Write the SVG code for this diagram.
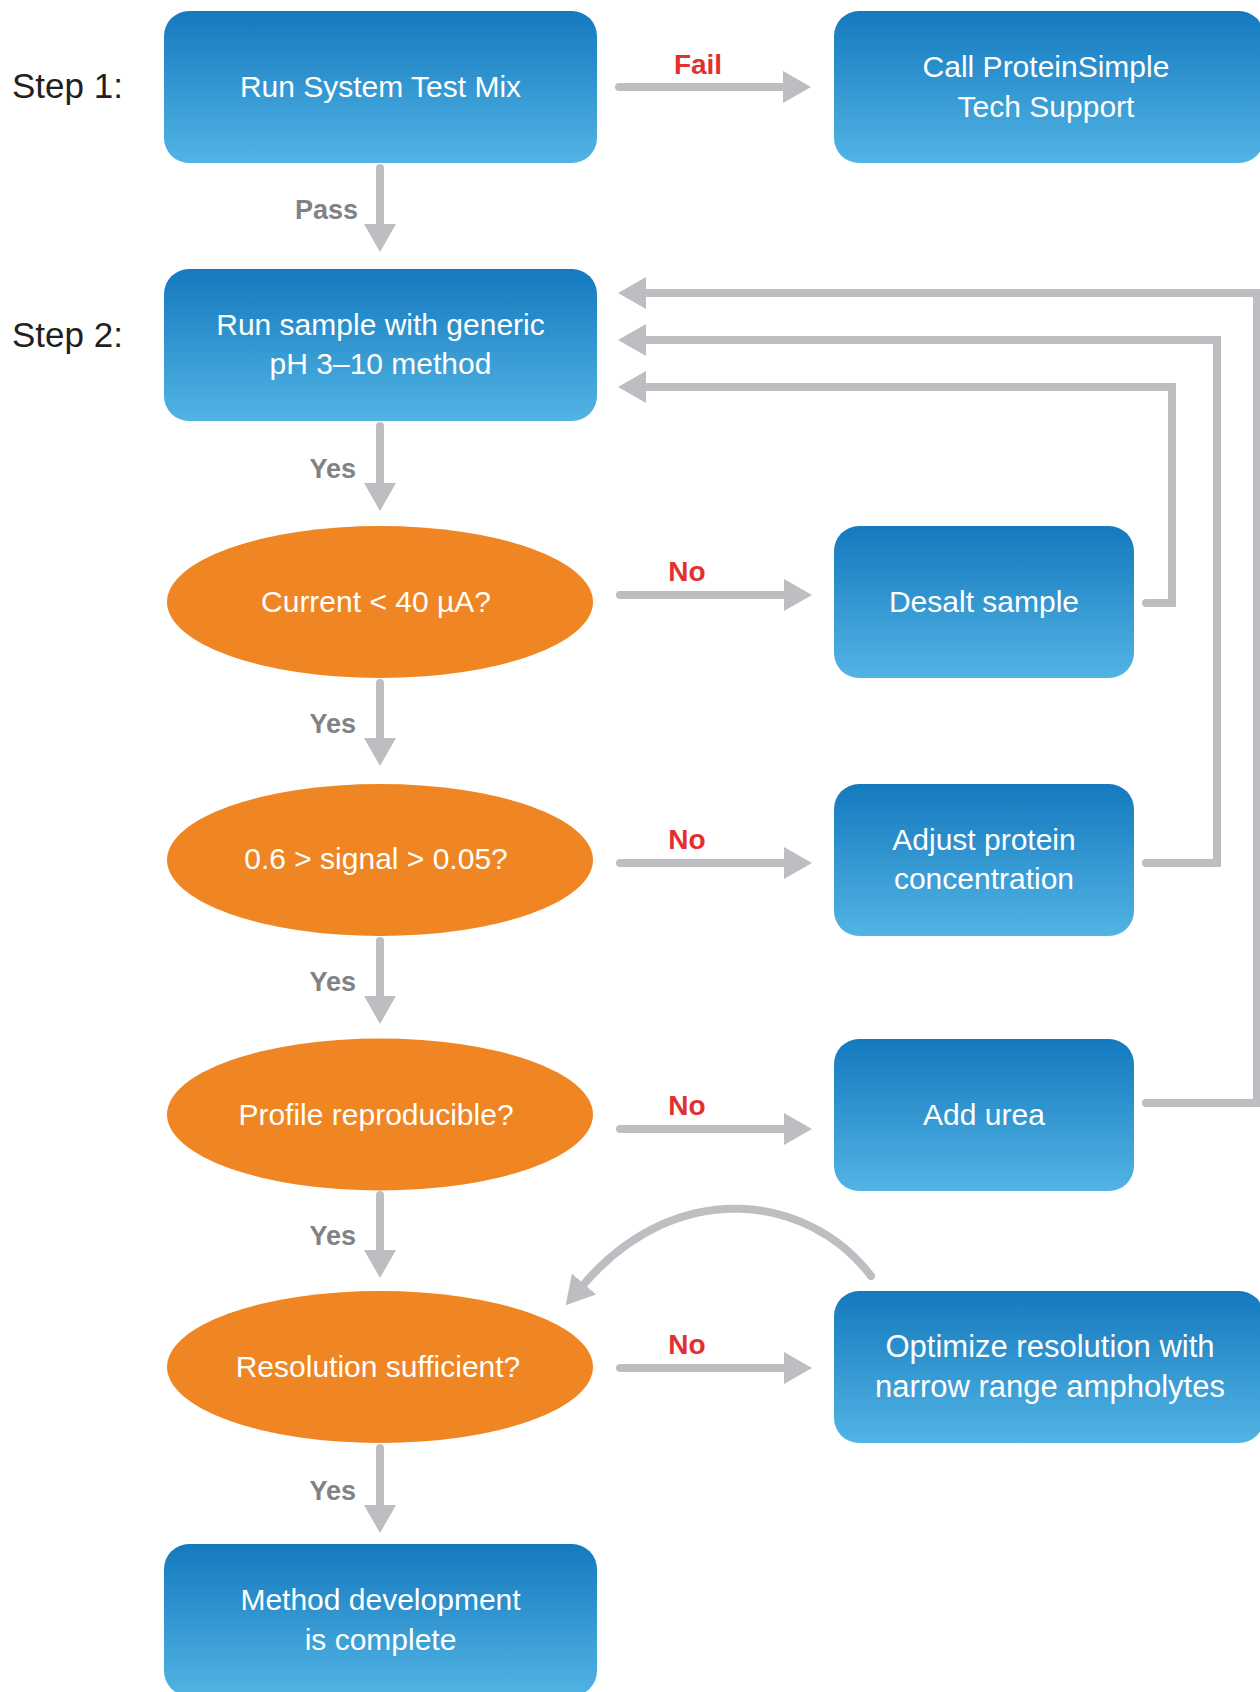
<svg xmlns="http://www.w3.org/2000/svg" width="1260" height="1692" viewBox="0 0 1260 1692">
<defs>
<linearGradient id="blue" x1="0" y1="0" x2="0" y2="1">
<stop offset="0" stop-color="#1479BE"/>
<stop offset="1" stop-color="#52B4E4"/>
</linearGradient>
<marker id="ah" viewBox="0 0 28 32" refX="0" refY="16" markerWidth="28" markerHeight="32" markerUnits="userSpaceOnUse" orient="auto">
<path d="M0,0 L28,16 L0,32 Z" fill="#BCBEC1"/>
</marker>
<style>
.box{fill:url(#blue);}
.ell{fill:#EF8623;}
.nt{font-family:"Liberation Sans",Arial,sans-serif;font-size:30px;fill:#FFFFFF;text-anchor:middle;}
.step{font-family:"Liberation Sans",Arial,sans-serif;font-size:35px;fill:#231F20;}
.gl{font-family:"Liberation Sans",Arial,sans-serif;font-size:27px;font-weight:bold;fill:#808285;text-anchor:end;}
.rl{font-family:"Liberation Sans",Arial,sans-serif;font-size:28px;font-weight:bold;fill:#E2302F;text-anchor:middle;}
.c{fill:none;stroke:#BCBEC1;stroke-width:8;stroke-linecap:round;stroke-linejoin:miter;marker-end:url(#ah);}
</style>
</defs>
<rect width="1260" height="1692" fill="#FFFFFF"/>

<text class="step" x="12" y="98">Step 1:</text>
<text class="step" x="12" y="347">Step 2:</text>

<g id="connectors">
<path class="c" d="M380,168 V224"/>
<path class="c" d="M619,87 H783"/>
<path class="c" d="M380,426 V483"/>
<path class="c" d="M620,595 H784"/>
<path class="c" d="M380,683 V738"/>
<path class="c" d="M620,863 H784"/>
<path class="c" d="M380,941 V996"/>
<path class="c" d="M620,1129 H784"/>
<path class="c" d="M380,1195 V1250"/>
<path class="c" d="M620,1368 H784"/>
<path class="c" d="M380,1448 V1505"/>
<path class="c" d="M1146,1103 H1257 V293 H646"/>
<path class="c" d="M1146,863 H1217 V340 H646"/>
<path class="c" d="M1146,603 H1172 V387 H646"/>
<path class="c" d="M871,1276 C810,1195 678,1175 584,1284"/>
<text class="gl" x="358" y="219">Pass</text>
<text class="rl" x="698" y="74">Fail</text>
<text class="gl" x="356" y="478">Yes</text>
<text class="rl" x="687" y="581">No</text>
<text class="gl" x="356" y="733">Yes</text>
<text class="rl" x="687" y="849">No</text>
<text class="gl" x="356" y="991">Yes</text>
<text class="rl" x="687" y="1115">No</text>
<text class="gl" x="356" y="1245">Yes</text>
<text class="rl" x="687" y="1354">No</text>
<text class="gl" x="356" y="1500">Yes</text>
</g>

<g id="n-test">
<rect class="box" x="164" y="11" width="433" height="152" rx="25"/>
<text class="nt" x="380.5" y="97">Run System Test Mix</text>
</g>
<g id="n-support">
<rect class="box" x="834" y="11" width="430" height="152" rx="25"/>
<text class="nt" x="1046" y="77">Call ProteinSimple</text>
<text class="nt" x="1046" y="117">Tech Support</text>
</g>
<g id="n-sample">
<rect class="box" x="164" y="269" width="433" height="152" rx="25"/>
<text class="nt" x="380.5" y="335">Run sample with generic</text>
<text class="nt" x="380.5" y="374">pH 3–10 method</text>
</g>
<g id="n-current">
<ellipse class="ell" cx="380" cy="602" rx="213" ry="76"/>
<text class="nt" x="376" y="612">Current &lt; 40 µA?</text>
</g>
<g id="n-desalt">
<rect class="box" x="834" y="526" width="300" height="152" rx="25"/>
<text class="nt" x="984" y="612">Desalt sample</text>
</g>
<g id="n-signal">
<ellipse class="ell" cx="380" cy="860" rx="213" ry="76"/>
<text class="nt" x="376" y="869">0.6 &gt; signal &gt; 0.05?</text>
</g>
<g id="n-adjust">
<rect class="box" x="834" y="784" width="300" height="152" rx="25"/>
<text class="nt" x="984" y="850">Adjust protein</text>
<text class="nt" x="984" y="889">concentration</text>
</g>
<g id="n-profile">
<ellipse class="ell" cx="380" cy="1114.5" rx="213" ry="76"/>
<text class="nt" x="376" y="1125">Profile reproducible?</text>
</g>
<g id="n-urea">
<rect class="box" x="834" y="1039" width="300" height="152" rx="25"/>
<text class="nt" x="984" y="1125">Add urea</text>
</g>
<g id="n-resolution">
<ellipse class="ell" cx="380" cy="1367" rx="213" ry="76"/>
<text class="nt" x="378" y="1377">Resolution sufficient?</text>
</g>
<g id="n-optimize">
<rect class="box" x="834" y="1291" width="430" height="152" rx="25"/>
<text class="nt" x="1050" y="1357" style="font-size:31px">Optimize resolution with</text>
<text class="nt" x="1050" y="1397" style="font-size:31px">narrow range ampholytes</text>
</g>
<g id="n-complete">
<rect class="box" x="164" y="1544" width="433" height="152" rx="25"/>
<text class="nt" x="380.5" y="1610">Method development</text>
<text class="nt" x="380.5" y="1650">is complete</text>
</g>
</svg>
